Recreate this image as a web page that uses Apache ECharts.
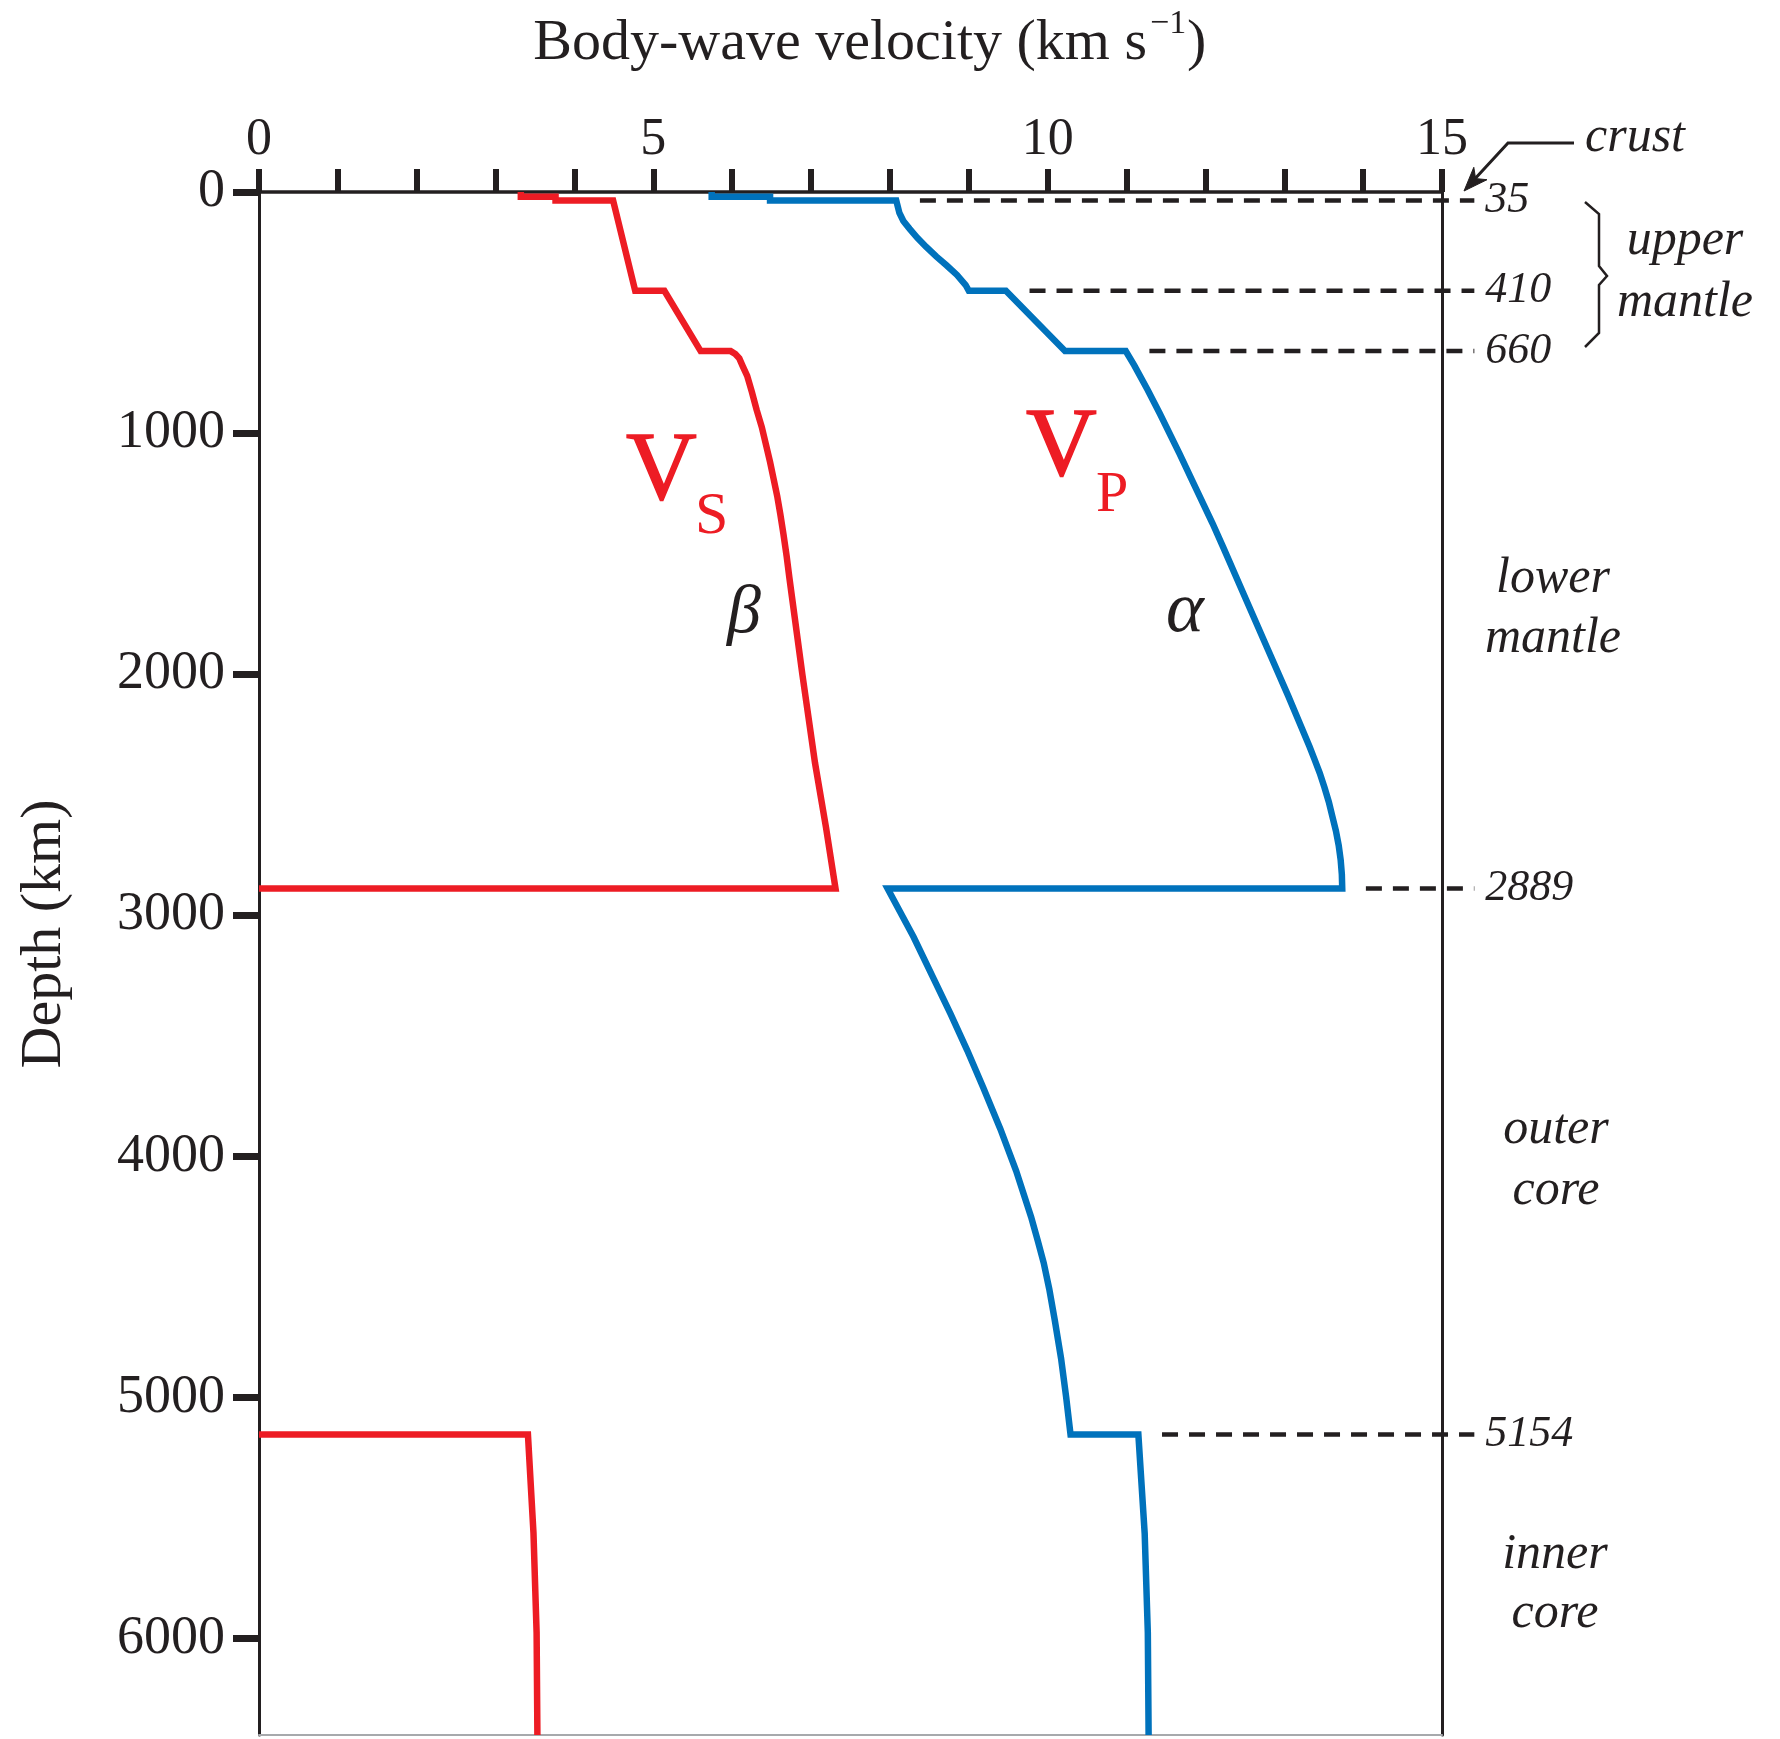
<!DOCTYPE html>
<html>
<head>
<meta charset="utf-8">
<script src="https://cdn.jsdelivr.net/npm/echarts@6/dist/echarts.min.js"></script>
<style>
  html, body { margin: 0; padding: 0; background: #ffffff; }
  #chart { width: 1780px; height: 1739px; }
</style>
</head>
<body>
<div id="chart"></div>
<script>
// P-wave velocity profile: depth (km) and velocity (km/s), surface to centre
const vpDepth = [0, 20, 20, 35, 35, 87, 120, 153, 191, 228, 268, 305, 344, 386, 410, 410, 660,
                 660, 720, 822, 918, 1084, 1195, 1374, 1473, 1690, 1888, 2090, 2300, 2350, 2410, 2470, 2530, 2590, 2650, 2710, 2770, 2830, 2889,
                 2889, 3090, 3267, 3410, 3560, 3712, 3886, 4060, 4251, 4350, 4442, 4550, 4679, 4838, 5000, 5154,
                 5154, 5563, 5977, 6400];
const vpVel = [5.74, 5.74, 6.48, 6.48, 8.08, 8.12, 8.17, 8.25, 8.35, 8.46, 8.59, 8.72, 8.85, 8.96, 9.00, 9.47, 10.22,
               10.99, 11.10, 11.27, 11.42, 11.67, 11.83, 12.09, 12.225, 12.515, 12.78, 13.05, 13.32, 13.38, 13.45, 13.51, 13.565, 13.61, 13.655, 13.69, 13.715, 13.73, 13.735,
               7.97, 8.30, 8.56, 8.77, 8.98, 9.18, 9.40, 9.60, 9.79, 9.875, 9.95, 10.02, 10.09, 10.17, 10.235, 10.29,
               11.15, 11.23, 11.27, 11.28];

// S-wave velocity, crust and mantle (drops to zero at the core-mantle boundary)
const vsDepth = [0, 20, 20, 35, 35, 410, 410, 660, 660, 672, 690, 720, 763, 830, 904, 975, 1050, 1120, 1190, 1260, 1336, 1420, 1510, 1600, 1685, 2002, 2368, 2637, 2889, 2889];
const vsVel = [3.32, 3.32, 3.76, 3.76, 4.49, 4.77, 5.14, 5.60, 5.98, 6.04, 6.09, 6.13, 6.19, 6.25, 6.31, 6.375, 6.43, 6.48, 6.525, 6.57, 6.61, 6.65, 6.69, 6.725, 6.76, 6.89, 7.05, 7.19, 7.31, 0];

// S-wave velocity, inner core
const vsInnerDepth = [5154, 5154, 5560, 5975, 6400];
const vsInnerVel = [0, 3.41, 3.48, 3.52, 3.53];

// Discontinuity depths (km)
const boundaryDepths = [35, 410, 660, 2889, 5154];

// Axis tick labels
const velocityTicks = [0, 5, 10, 15];
const depthTicks = [0, 1000, 2000, 3000, 4000, 5000, 6000];

const INK = '#231f20';
const RED = '#ed1c24';
const BLUE = '#0072bc';
const SERIF = '"Liberation Serif", "Times New Roman", serif';

const VMAX = 15;           // velocity at the right frame
const DASH_END = 15.41;    // dashed guides run just past the right frame
const GRID = { left: 259, top: 192, width: 1183, height: 1543 };

const pairs = (vel, depth) => vel.map((v, i) => [v, depth[i]]);

// fastest P velocity at a given discontinuity, where the guide line starts
function vpAt(depth) {
  return Math.max(...vpVel.filter((v, i) => vpDepth[i] === depth));
}

// text placed by its baseline
function txt(str, x, baseline, size, o) {
  o = o || {};
  return {
    type: 'text', x: x, y: baseline - 0.34 * size, silent: true,
    style: {
      text: str,
      fontFamily: SERIF,
      fontSize: size,
      fontStyle: o.italic ? 'italic' : 'normal',
      fontWeight: o.weight || 'normal',
      fill: o.color || INK,
      stroke: o.stroke || null,
      lineWidth: o.stroke ? 1.5 : 0,
      align: o.align || 'left',
      verticalAlign: 'middle'
    }
  };
}

const lineBase = {
  type: 'line', symbol: 'none', showSymbol: false, silent: true,
  emphasis: { disabled: true }, animation: false
};

const curveStyle = c => ({ color: c, width: 6.5, cap: 'butt', join: 'miter' });

const curveSeries = [
  Object.assign({}, lineBase, { name: 'Vs', xAxisIndex: 0, yAxisIndex: 0, z: 4, data: pairs(vsVel, vsDepth), lineStyle: curveStyle(RED) }),
  Object.assign({}, lineBase, { name: 'Vs inner', xAxisIndex: 0, yAxisIndex: 0, z: 4, data: pairs(vsInnerVel, vsInnerDepth), lineStyle: curveStyle(RED) }),
  Object.assign({}, lineBase, { name: 'Vp', xAxisIndex: 0, yAxisIndex: 0, z: 4, data: pairs(vpVel, vpDepth), lineStyle: curveStyle(BLUE) })
];

// guides live on a wider hidden grid with the same scale, so they can cross the frame
const guideSeries = boundaryDepths.map(d => Object.assign({}, lineBase, {
  name: 'boundary ' + d, xAxisIndex: 2, yAxisIndex: 2, z: 3, clip: false,
  data: [[vpAt(d) + 0.3, d], [DASH_END, d]],
  lineStyle: { color: INK, width: 4.5, type: [16, 11], cap: 'butt' },
  endLabel: {
    show: true, distance: 11, formatter: String(d),
    fontFamily: SERIF, fontStyle: 'italic', fontSize: 44, color: INK
  }
}));

const hiddenAxis = { show: false, axisLine: { show: false, onZero: false }, axisTick: { show: false }, axisLabel: { show: false }, splitLine: { show: false } };

const chart = echarts.init(document.getElementById('chart'), null, { renderer: 'canvas' });

chart.setOption({
  backgroundColor: '#ffffff',
  animation: false,
  grid: [
    Object.assign({ containLabel: false }, GRID),
    { left: GRID.left, top: GRID.top, width: GRID.width * DASH_END / VMAX, height: GRID.height, containLabel: false }
  ],
  xAxis: [
    {
      type: 'value', gridIndex: 0, position: 'top', min: 0, max: VMAX, interval: 1,
      axisLine: { show: true, onZero: false, lineStyle: { color: INK, width: 3.5 } },
      axisTick: { show: true, inside: false, length: 23, lineStyle: { color: INK, width: 6 } },
      axisLabel: {
        show: true, margin: 52, verticalAlign: 'middle',
        fontFamily: SERIF, fontSize: 52, color: INK,
        formatter: v => velocityTicks.includes(v) ? String(v) : ''
      },
      splitLine: { show: false }
    },
    {
      type: 'value', gridIndex: 0, position: 'bottom', min: 0, max: VMAX,
      axisLine: { show: true, onZero: false, lineStyle: { color: '#a7a9ac', width: 2 } },
      axisTick: { show: false }, axisLabel: { show: false }, splitLine: { show: false }
    },
    Object.assign({ type: 'value', gridIndex: 1, min: 0, max: DASH_END }, hiddenAxis)
  ],
  yAxis: [
    {
      type: 'value', gridIndex: 0, position: 'left', inverse: true, min: 0, max: 6400, interval: 1000,
      axisLine: { show: true, onZero: false, lineStyle: { color: INK, width: 3 } },
      axisTick: { show: true, inside: false, length: 26, customValues: depthTicks, lineStyle: { color: INK, width: 7 } },
      axisLabel: {
        show: true, margin: 34, customValues: depthTicks,
        fontFamily: SERIF, fontSize: 54, color: INK,
        formatter: v => String(v)
      },
      splitLine: { show: false }
    },
    {
      type: 'value', gridIndex: 0, position: 'right', inverse: true, min: 0, max: 6400,
      axisLine: { show: true, onZero: false, lineStyle: { color: INK, width: 3 } },
      axisTick: { show: false }, axisLabel: { show: false }, splitLine: { show: false }
    },
    Object.assign({ type: 'value', gridIndex: 1, inverse: true, min: 0, max: 6400 }, hiddenAxis)
  ],
  series: curveSeries.concat(guideSeries),
  graphic: [
    // axis titles
    {
      type: 'text', x: 1147, y: 63 - 0.34 * 58, silent: true,
      style: { text: 'Body-wave velocity (km s', fontFamily: SERIF, fontSize: 58, fill: INK, align: 'right', verticalAlign: 'middle' }
    },
    txt('\u22121', 1150, 36, 34),
    txt(')', 1187, 63, 58),
    {
      type: 'text', x: 45, y: 934, rotation: Math.PI / 2, silent: true,
      style: { text: 'Depth (km)', fontFamily: SERIF, fontSize: 58, fill: INK, align: 'center', verticalAlign: 'middle' }
    },

    // curve names
    txt('V', 626, 507, 98, { color: RED, stroke: RED }),
    txt('S', 695, 538, 60, { color: RED }),
    txt('V', 1026, 483, 98, { color: RED, stroke: RED }),
    txt('P', 1096, 515, 58, { color: RED }),
    txt('\u03b2', 727, 637, 68, { italic: true }),
    txt('\u03b1', 1166, 637, 72, { italic: true }),

    // layer names
    txt('crust', 1585, 155, 50, { italic: true }),
    txt('upper', 1685, 258, 50, { italic: true, align: 'center' }),
    txt('mantle', 1685, 320, 50, { italic: true, align: 'center' }),
    txt('lower', 1553, 596, 50, { italic: true, align: 'center' }),
    txt('mantle', 1553, 656, 50, { italic: true, align: 'center' }),
    txt('outer', 1556, 1147, 50, { italic: true, align: 'center' }),
    txt('core', 1556, 1208, 50, { italic: true, align: 'center' }),
    txt('inner', 1555, 1572, 50, { italic: true, align: 'center' }),
    txt('core', 1555, 1631, 50, { italic: true, align: 'center' }),

    // arrow from "crust" to the top of the profile
    {
      type: 'polyline', silent: true,
      shape: { points: [[1574, 143], [1508, 143], [1472, 182]] },
      style: { stroke: INK, lineWidth: 3, fill: null }
    },
    {
      type: 'polygon', silent: true,
      shape: { points: [[1464, 191], [1473.8, 167.3], [1475.6, 178.6], [1487, 179.7]] },
      style: { fill: INK, stroke: INK, lineWidth: 1 }
    },

    // brace grouping the upper mantle
    {
      type: 'polyline', silent: true,
      shape: { points: [[1585, 202], [1599, 214], [1599, 266], [1607, 276], [1599, 285], [1599, 333], [1585, 347]] },
      style: { stroke: INK, lineWidth: 2.5, fill: null }
    }
  ]
});
</script>
</body>
</html>
